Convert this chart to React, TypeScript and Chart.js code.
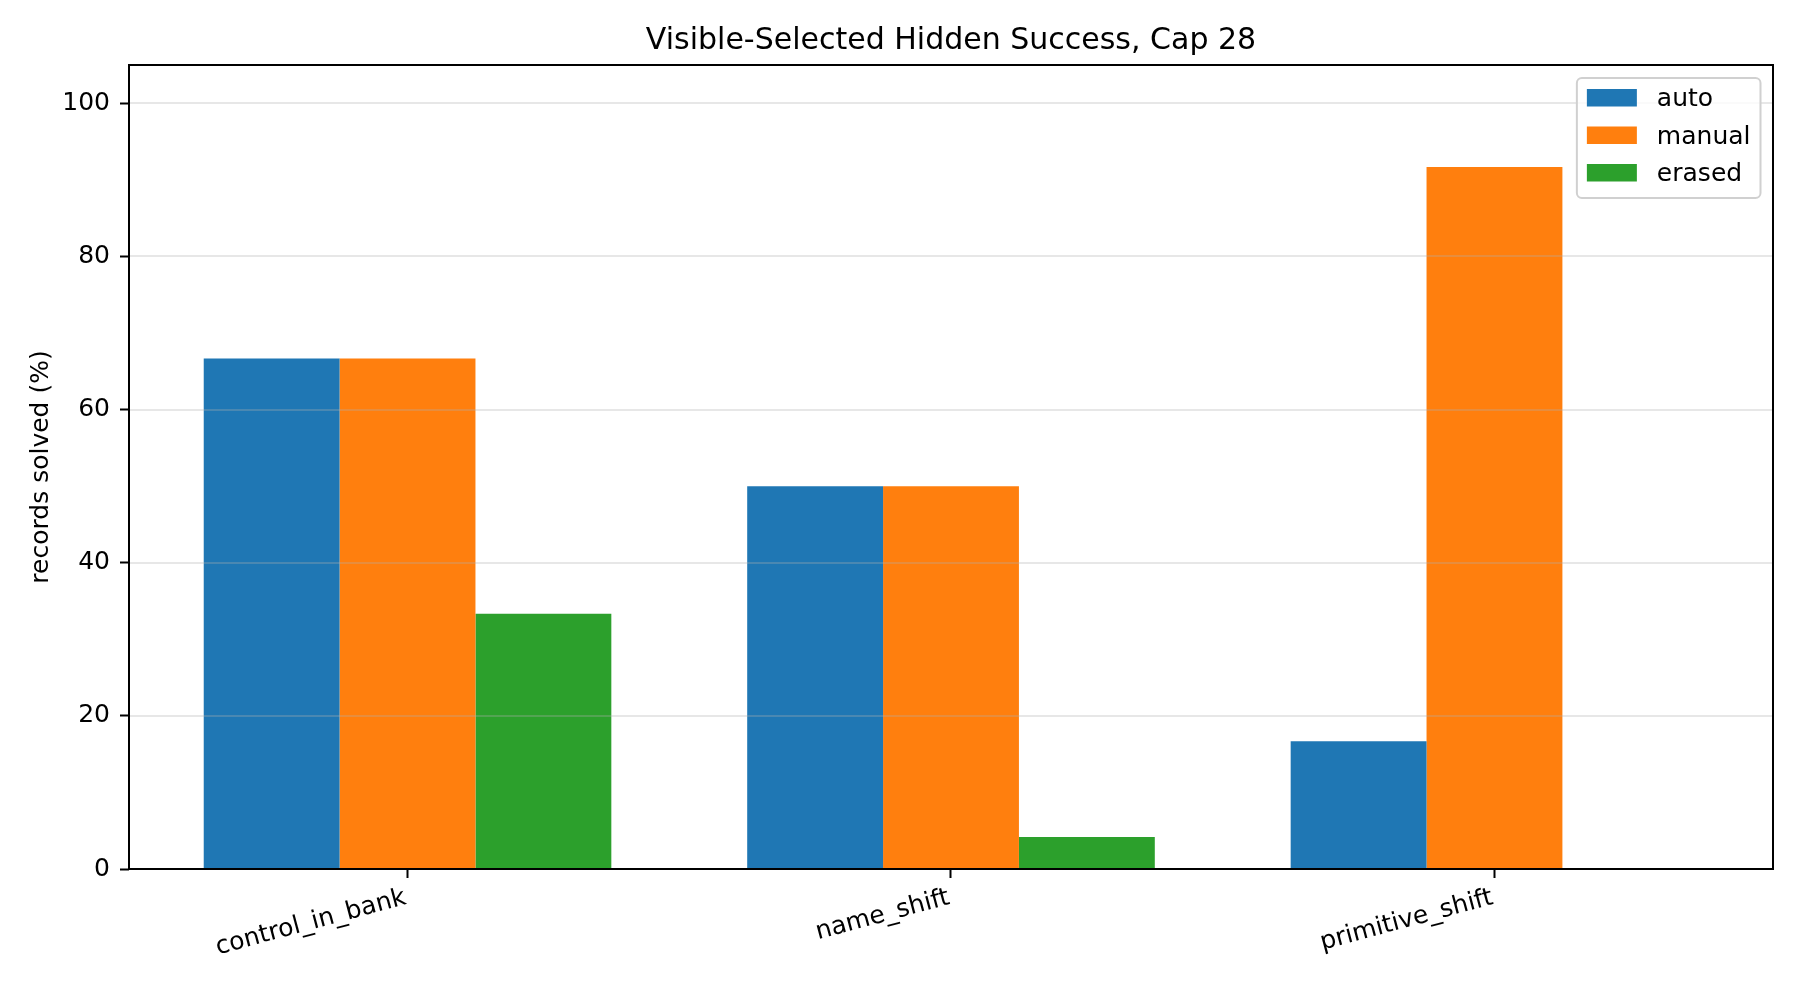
import React, { useEffect, useRef } from 'react';
import { Chart, registerables } from 'chart.js';

Chart.register(...registerables);

const categories = ['control_in_bank', 'name_shift', 'primitive_shift'];
const autoValues = [66.67, 50.0, 16.67];
const manualValues = [66.67, 50.0, 91.67];
const erasedValues = [33.33, 4.17, 0];
const seriesLabels = ['auto', 'manual', 'erased'];
const seriesColors = ['#1f77b4', '#ff7f0e', '#2ca02c'];
const yTicks = [0, 20, 40, 60, 80, 100];

const chartTitle = 'Visible-Selected Hidden Success, Cap 28';
const yTitle = 'records solved (%)';
const FONT = '"DejaVu Sans", sans-serif';

// grid above bars, four spines, title over the axes, legend in the upper right
const decorPlugin = {
    id: 'decor',
    afterDatasetsDraw(chart: any) {
        const { ctx, chartArea } = chart;
        const y = chart.scales.y;
        ctx.save();
        ctx.strokeStyle = 'rgba(176,176,176,0.3)';
        ctx.lineWidth = 2;
        yTicks.forEach((t) => {
            const py = Math.round(y.getPixelForValue(t));
            ctx.beginPath();
            ctx.moveTo(chartArea.left, py);
            ctx.lineTo(chartArea.right, py);
            ctx.stroke();
        });

        ctx.strokeStyle = '#000';
        ctx.lineWidth = 2;
        ctx.strokeRect(chartArea.left, chartArea.top, chartArea.right - chartArea.left, chartArea.bottom - chartArea.top);

        ctx.fillStyle = '#000';
        ctx.font = `30px ${FONT}`;
        ctx.textAlign = 'center';
        ctx.textBaseline = 'alphabetic';
        ctx.fillText(chartTitle, (chartArea.left + chartArea.right) / 2, chartArea.top - 16);

        // legend
        ctx.font = `25px ${FONT}`;
        const textW = Math.max(...seriesLabels.map((l) => ctx.measureText(l).width));
        const boxW = 10 + 50 + 20 + textW + 10;
        const boxH = 120;
        const bx = chartArea.right - 12.5 - boxW;
        const by = chartArea.top + 13;
        ctx.beginPath();
        ctx.roundRect(bx, by, boxW, boxH, 5);
        ctx.fillStyle = 'rgba(255,255,255,0.8)';
        ctx.fill();
        ctx.strokeStyle = '#d0d0d0';
        ctx.lineWidth = 2;
        ctx.stroke();
        ctx.textAlign = 'left';
        chart.data.datasets.forEach((ds: any, i: number) => {
            const cy = by + 20 + i * 37.5;
            ctx.fillStyle = ds.backgroundColor;
            ctx.fillRect(bx + 10, cy - 9, 50, 17.5);
            ctx.fillStyle = '#000';
            ctx.fillText(ds.label, bx + 80, cy + 8);
        });
        ctx.restore();
    },
};

const App: React.FC = () => {
    const canvasRef = useRef<HTMLCanvasElement>(null);
    const chartInstance = useRef<Chart | null>(null);

    useEffect(() => {
        document.body.style.margin = '0';
        if (!canvasRef.current) return;
        if (chartInstance.current) chartInstance.current.destroy();
        const ctx = canvasRef.current.getContext('2d');
        if (!ctx) return;

        const series = [autoValues, manualValues, erasedValues];
        chartInstance.current = new Chart(ctx, {
            type: 'bar',
            data: {
                datasets: series.map((vals, i) => ({
                    label: seriesLabels[i],
                    data: vals.map((v, j) => ({ x: j, y: v })),
                    backgroundColor: seriesColors[i],
                    borderWidth: 0,
                    categoryPercentage: 0.75,
                    barPercentage: 1.0,
                })),
            },
            options: {
                responsive: false,
                animation: false,
                devicePixelRatio: 1,
                layout: { padding: { top: 65, right: 27, bottom: 0, left: 0 } },
                plugins: {
                    legend: { display: false },
                    title: { display: false },
                    tooltip: { enabled: false },
                },
                scales: {
                    x: {
                        type: 'linear',
                        min: -0.5125,
                        max: 2.5125,
                        offset: false,
                        border: { display: false },
                        grid: {
                            offset: false,
                            drawOnChartArea: false,
                            drawTicks: true,
                            tickLength: 9,
                            tickColor: '#000',
                            tickWidth: 2,
                        },
                        ticks: {
                            stepSize: 1,
                            includeBounds: false,
                            autoSkip: false,
                            minRotation: 15,
                            maxRotation: 15,
                            padding: 5,
                            labelOffset: -2,
                            color: '#000',
                            font: { family: FONT, size: 25 },
                            callback: (v: any) => (Number.isInteger(v) ? categories[v] ?? '' : ''),
                        },
                        afterFit: (scale: any) => {
                            scale.height = 121;
                        },
                    },
                    y: {
                        min: 0,
                        max: 105,
                        border: { display: false },
                        grid: {
                            drawOnChartArea: false,
                            drawTicks: true,
                            tickLength: 9,
                            tickColor: '#000',
                            tickWidth: 2,
                        },
                        ticks: {
                            stepSize: 20,
                            includeBounds: false,
                            padding: 10,
                            color: '#000',
                            font: { family: FONT, size: 25 },
                        },
                        title: {
                            display: true,
                            text: yTitle,
                            color: '#000',
                            font: { family: FONT, size: 25 },
                            padding: { top: 26, bottom: 0 },
                        },
                        afterFit: (scale: any) => {
                            scale.width = 129;
                        },
                    },
                },
            },
            plugins: [decorPlugin],
        } as any);

        return () => {
            if (chartInstance.current) {
                chartInstance.current.destroy();
                chartInstance.current = null;
            }
        };
    }, []);

    return (
        <div style={{ width: 1800, height: 990, background: '#fff' }}>
            <canvas ref={canvasRef} width={1800} height={990} style={{ display: 'block' }}></canvas>
        </div>
    );
};

export default App;
